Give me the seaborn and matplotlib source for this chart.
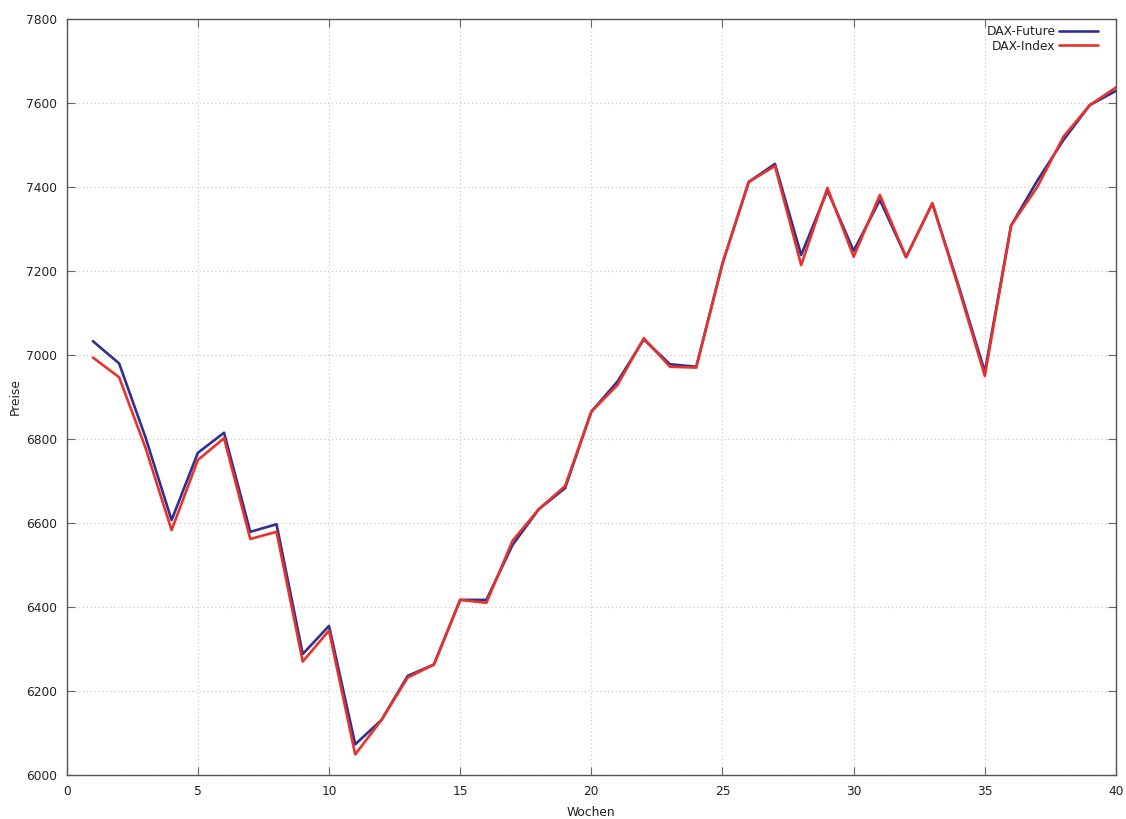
import numpy as np
import pandas as pd
import matplotlib
matplotlib.use("Agg")
import matplotlib.pyplot as plt
import seaborn as sns

wochen = list(range(1, 41))
dax_future = [7033, 6980, 6805, 6607, 6767, 6815, 6579, 6597, 6288, 6355,
              6073, 6131, 6236, 6263, 6417, 6417, 6548, 6633, 6683, 6865,
              6937, 7037, 6978, 6972, 7218, 7412, 7455, 7238, 7392, 7248,
              7369, 7233, 7361, 7165, 6960, 7308, 7415, 7512, 7595, 7629]
dax_index = [6994, 6947, 6780, 6583, 6750, 6802, 6562, 6579, 6270, 6344,
             6049, 6131, 6232, 6263, 6417, 6410, 6558, 6633, 6688, 6865,
             6929, 7040, 6972, 6970, 7218, 7412, 7450, 7214, 7398, 7234,
             7381, 7233, 7361, 7160, 6950, 7308, 7400, 7520, 7595, 7637]
series_names = ["DAX-Future", "DAX-Index"]
colors = ["#2e3192", "#e8322b"]
x_ticks = [0, 5, 10, 15, 20, 25, 30, 35, 40]
y_ticks = [6000, 6200, 6400, 6600, 6800, 7000, 7200, 7400, 7600, 7800]

df = pd.DataFrame({
    "Wochen": wochen * 2,
    "Preise": dax_future + dax_index,
    "Serie": [series_names[0]] * len(wochen) + [series_names[1]] * len(wochen),
})

sns.set_theme(style="white")
plt.rcParams['font.family'] = ['DejaVu Sans']
fs = 8.8

fig = plt.figure(figsize=(11.26, 8.19), dpi=100)
ax = fig.add_axes([0.0592, 0.0537, 0.9319, 0.9231])

sns.lineplot(data=df, x="Wochen", y="Preise", hue="Serie", palette=colors,
             hue_order=series_names, linewidth=1.9, ax=ax, legend=True)

ax.set_xlim(0, 40)
ax.set_ylim(6000, 7800)
ax.set_xticks(x_ticks)
ax.set_yticks(y_ticks)
ax.tick_params(direction="in", length=6, width=0.8, color="#666666",
               top=True, right=True, bottom=True, left=True,
               labelsize=fs, labelcolor="#222222", pad=7)
ax.grid(True, linestyle=(0, (1, 2.5)), color="#c4c4c4", linewidth=0.8)
for s in ax.spines.values():
    s.set_visible(True)
    s.set_color("#555555")
    s.set_linewidth(1.0)

ax.set_xlabel("Wochen", fontsize=fs, color="#222222", labelpad=6)
ax.set_ylabel("Preise", fontsize=fs, color="#222222", labelpad=3)

handles, labels = ax.get_legend_handles_labels()
leg = ax.legend(handles, labels, loc="upper right", frameon=False,
                markerfirst=False, fontsize=fs, handlelength=3.2,
                handletextpad=0.3, labelspacing=0.1,
                borderaxespad=0.3, bbox_to_anchor=(0.9914, 1.003))
for t in leg.get_texts():
    t.set_color("#222222")

fig.savefig("out.png", dpi=100, facecolor="white")
